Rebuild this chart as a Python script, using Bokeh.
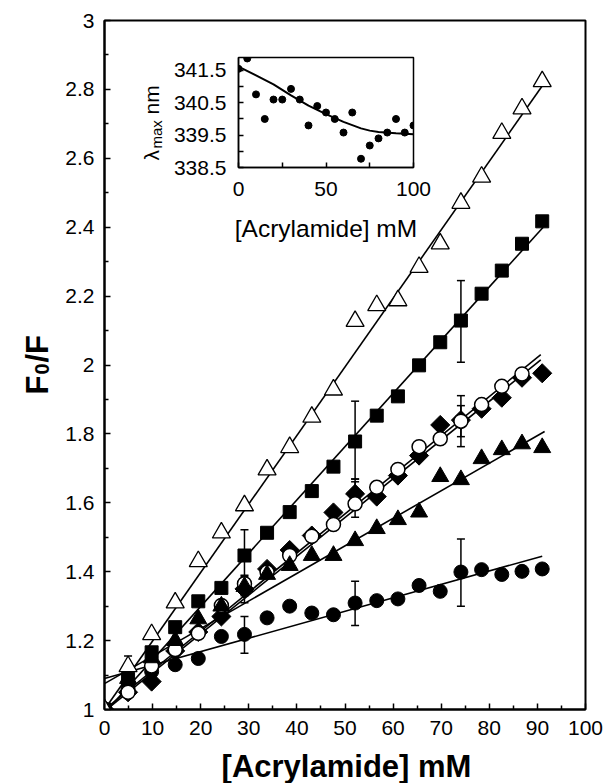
import numpy as np
from bokeh.plotting import figure
from bokeh.models import FixedTicker, Whisker, ColumnDataSource, TeeHead, Range1d, GridBox
from bokeh.core.properties import value
from bokeh.embed import file_html
from bokeh.resources import INLINE

# ---------------- data ----------------
conc = [0, 4.9, 9.8, 14.7, 19.5, 24.3, 29.1, 33.8, 38.5, 43.1, 47.6,
        52.1, 56.6, 61.0, 65.4, 69.8, 74.1, 78.4, 82.6, 86.8, 91.0]

open_tri = [1.0, 1.125, 1.218, 1.310, 1.430, 1.513, 1.592, 1.696, 1.761, 1.849, 1.928,
            2.127, 2.173, 2.187, 2.284, 2.352, 2.470, 2.546, 2.673, 2.744, 2.823]
filled_sq = [1.0, 1.089, 1.166, 1.239, 1.314, 1.353, 1.447, 1.513, 1.573, 1.634, 1.705,
             1.778, 1.853, 1.909, 1.999, 2.066, 2.129, 2.207, 2.274, 2.352, 2.417]
open_circ = [1.0, 1.050, 1.126, 1.174, 1.221, 1.302, 1.365, 1.399, 1.447, 1.503, 1.537,
             1.597, 1.645, 1.697, 1.763, 1.786, 1.837, 1.885, 1.938, 1.974]
diamond = [1.0, 1.05, 1.081, 1.17, 1.225, 1.27, 1.35, 1.408, 1.463, 1.505, 1.572,
           1.626, 1.618, 1.679, 1.737, 1.826, 1.84, 1.873, 1.905, 1.963, 1.976]
filled_tri = [1.0, 1.09, 1.15, 1.20, 1.263, 1.30, 1.357, 1.392, 1.418, 1.447, 1.447,
              1.490, 1.525, 1.551, 1.573, 1.676, 1.667, 1.728, 1.754, 1.771, 1.760]
filled_circ = [1.0, 1.06, 1.11, 1.13, 1.148, 1.212, 1.218, 1.266, 1.30, 1.28, 1.275,
               1.309, 1.316, 1.321, 1.360, 1.343, 1.399, 1.406, 1.392, 1.401, 1.408]

# fitted straight lines (end points)
fit_open_tri_x, fit_open_tri_y = [0, 91.5], [1.0, 2.82]
fit_sq_x, fit_sq_y = [0, 91.2], [0.99, 2.40]
fit_oc_x, fit_oc_y = [0, 90.7], [1.0, 2.03]
fit_dia_x, fit_dia_y = [0, 90.7], [0.995, 2.015]
fit_ftri_x, fit_ftri_y = [0, 91.5], [1.075, 1.807]
fit_fc_x, fit_fc_y = [0, 91.0], [1.09, 1.445]

# error bars
err_ot_x, err_ot_lo, err_ot_hi = [4.9], [1.095], [1.155]
err_sq_x, err_sq_lo, err_sq_hi = [29.1, 52.1, 74.1], [1.37, 1.669, 2.008], [1.522, 1.895, 2.245]
err_fc_x, err_fc_lo, err_fc_hi = [29.1, 52.1, 74.1], [1.163, 1.244, 1.300], [1.270, 1.372, 1.495]
err_oc_x, err_oc_lo, err_oc_hi = [52.1, 74.1], [1.558, 1.763], [1.669, 1.911]
err_dia_x, err_dia_lo, err_dia_hi = [29.1, 52.1, 74.1], [1.31, 1.59, 1.792], [1.39, 1.661, 1.882]
err_ft_x, err_ft_lo, err_ft_hi = [29.1], [1.33], [1.386]

# axis ticks
x_ticks = [0, 10, 20, 30, 40, 50, 60, 70, 80, 90, 100]
x_minor = [5, 15, 25, 35, 45, 55, 65, 75, 85, 95]
y_ticks = [1.0, 1.2, 1.4, 1.6, 1.8, 2.0, 2.2, 2.4, 2.6, 2.8, 3.0]
y_tick_labels = ["1", "1.2", "1.4", "1.6", "1.8", "2", "2.2", "2.4", "2.6", "2.8", "3"]
y_minor = [1.1, 1.3, 1.5, 1.7, 1.9, 2.1, 2.3, 2.5, 2.7, 2.9]

# inset data
ins_x = [0, 5, 10, 15, 20, 25, 30, 35, 40, 45, 50, 55, 60, 65, 70, 75, 80, 85, 90, 95, 100]
ins_y = [341.55, 341.87, 340.76, 340.0, 340.6, 340.6, 340.93, 340.6, 339.8, 340.4, 340.2,
         340.0, 339.58, 340.2, 338.77, 339.18, 339.4, 339.58, 340.0, 339.58, 339.8]
ins_fit_x = [0, 10, 20, 30, 40, 50, 60, 70, 75, 80, 90, 100]
ins_fit_y = [341.62, 341.35, 341.07, 340.73, 340.41, 340.15, 339.91, 339.71, 339.64, 339.6, 339.56, 339.53]
ins_x_ticks = [0, 50, 100]
ins_x_minor = [25, 75]
ins_y_ticks = [338.5, 339.5, 340.5, 341.5]
ins_y_minor = [339.0, 340.0, 341.0]

FONT = "Liberation Sans"

# ---------------- main figure ----------------
W, H = 605, 783
p = figure(width=W, height=H, x_range=Range1d(0, 100), y_range=Range1d(1, 3),
           output_backend="svg", toolbar_location=None, frame_align=False,
           min_border_left=104, min_border_right=20, min_border_top=20, min_border_bottom=74)
p.grid.visible = False
p.outline_line_color = "black"
p.outline_line_width = 2
p.background_fill_color = "white"

for ax in (p.xaxis[0], p.yaxis[0]):
    ax.axis_line_width = 2
    ax.major_tick_in = 6
    ax.major_tick_out = 0
    ax.minor_tick_in = 4
    ax.minor_tick_out = 0
    ax.major_tick_line_width = 1.5
    ax.minor_tick_line_width = 1.5
    ax.major_label_text_font = FONT
    ax.major_label_text_font_size = "21px"
    ax.major_label_text_color = "black"

p.xaxis.ticker = FixedTicker(ticks=x_ticks, minor_ticks=x_minor)
p.yaxis.ticker = FixedTicker(ticks=y_ticks, minor_ticks=y_minor)
p.yaxis.major_label_overrides = {v: s for v, s in zip(y_ticks, y_tick_labels)}
p.xaxis.major_label_standoff = 11
p.yaxis.major_label_standoff = 10

LW = 1.6
for fx, fy in [(fit_open_tri_x, fit_open_tri_y), (fit_sq_x, fit_sq_y), (fit_oc_x, fit_oc_y),
               (fit_dia_x, fit_dia_y), (fit_ftri_x, fit_ftri_y), (fit_fc_x, fit_fc_y)]:
    p.line(fx, fy, line_color="black", line_width=LW)


def add_err(xs, lo, hi):
    src = ColumnDataSource(dict(base=xs, lower=lo, upper=hi))
    w = Whisker(base="base", lower="lower", upper="upper", source=src,
                line_color="black", line_width=1.5,
                upper_head=TeeHead(size=8, line_width=1.5, line_color="black"),
                lower_head=TeeHead(size=8, line_width=1.5, line_color="black"))
    p.add_layout(w)


for e in [(err_ot_x, err_ot_lo, err_ot_hi), (err_sq_x, err_sq_lo, err_sq_hi),
          (err_fc_x, err_fc_lo, err_fc_hi), (err_oc_x, err_oc_lo, err_oc_hi),
          (err_dia_x, err_dia_lo, err_dia_hi), (err_ft_x, err_ft_lo, err_ft_hi)]:
    add_err(*e)

p.scatter(conc, filled_circ, marker="circle", size=14, fill_color="black", line_color="black")
p.scatter(conc, diamond, marker="square", angle=np.pi / 4, size=13.5,
          fill_color="black", line_color="black")
p.scatter(conc[:len(open_circ)], open_circ, marker="circle", size=14,
          fill_color="white", line_color="black", line_width=1.5)
p.scatter(conc, filled_tri, marker="triangle", size=17, fill_color="black", line_color="black")
p.scatter(conc, filled_sq, marker="square", size=13, fill_color="black", line_color="black")
p.scatter(conc, open_tri, marker="triangle", size=18, fill_color="white",
          line_color="black", line_width=1.3)

# ---------------- inset ----------------
IX0, IY0 = 128, 36
IBL, IBR, IBT, IBB = 110, 22, 21, 90
IW, IH = IBL + 175 + IBR, IBT + 110 + IBB
ins = figure(width=IW, height=IH, x_range=Range1d(0, 100), y_range=Range1d(338.5, 341.9),
             output_backend="svg", toolbar_location=None, frame_align=False,
             min_border_left=IBL, min_border_right=IBR, min_border_top=IBT, min_border_bottom=IBB,
             margin=(IY0, 0, 0, IX0), align="start")
ins.title.visible = False
ins.grid.visible = False
ins.outline_line_color = "black"
ins.outline_line_width = 1.5
ins.border_fill_alpha = 0
ins.background_fill_color = "white"
for ax in (ins.xaxis[0], ins.yaxis[0]):
    ax.axis_line_width = 1.5
    ax.major_tick_in = 5
    ax.major_tick_out = 0
    ax.minor_tick_in = 5
    ax.minor_tick_out = 0
    ax.major_tick_line_width = 1.5
    ax.minor_tick_line_width = 1.5
    ax.major_label_text_font = FONT
    ax.major_label_text_font_size = "21px"
    ax.major_label_text_color = "black"
ins.xaxis.ticker = FixedTicker(ticks=ins_x_ticks, minor_ticks=ins_x_minor)
ins.yaxis.ticker = FixedTicker(ticks=ins_y_ticks, minor_ticks=ins_y_minor)
ins.xaxis.major_label_standoff = 14
ins.yaxis.major_label_standoff = 12
ins.xaxis.axis_label = "[Acrylamide] mM"
ins.xaxis.axis_label_text_font = FONT
ins.xaxis.axis_label_text_font_style = "normal"
ins.xaxis.axis_label_text_color = "black"
ins.xaxis.axis_label_text_font_size = "24.5px"
ins.xaxis.axis_label_standoff = 16

ins.line(ins_fit_x, ins_fit_y, line_color="black", line_width=2)
ins.scatter(ins_x, ins_y, marker="circle", size=7, fill_color="black", line_color="black")

# ---------------- transparent overlay for the axis titles (page pixel coordinates) ----------------
ov = figure(width=W, height=H, x_range=Range1d(0, W), y_range=Range1d(H, 0),
            x_axis_type=None, y_axis_type=None, title=None, frame_align=False,
            output_backend="svg", toolbar_location=None, min_border=0)
ov.grid.visible = False
ov.outline_line_color = None
ov.background_fill_alpha = 0
ov.border_fill_alpha = 0

bold = dict(text_font=value(FONT), text_font_style="bold", text_color="black")
reg = dict(text_font=value(FONT), text_font_style="normal", text_color="black")
ov.text(x=[346], y=[766], text=["[Acrylamide] mM"], text_font_size="31px",
        text_align="center", text_baseline="middle", **bold)
rot = dict(angle=np.pi / 2, text_align="left", text_baseline="alphabetic")
ov.text(x=[37], y=[394], text=["F"], text_font_size="31px", **rot, **bold)
ov.text(x=[41], y=[374], text=["0"], text_font_size="20px", **rot, **bold)
ov.text(x=[37], y=[362], text=["/F"], text_font_size="31px", **rot, **bold)
ov.text(x=[151], y=[160], text=["\u03bb"], text_font_size="21px", **rot, **reg)
ov.text(x=[155.5], y=[148], text=["max"], text_font_size="15px", **rot, **reg)
ov.text(x=[151], y=[114], text=["nm"], text_font_size="21px", **rot, **reg)

layout = GridBox(children=[(p, 0, 0), (ins, 0, 0), (ov, 0, 0)])
open("out.html", "w").write(file_html(layout, INLINE))
